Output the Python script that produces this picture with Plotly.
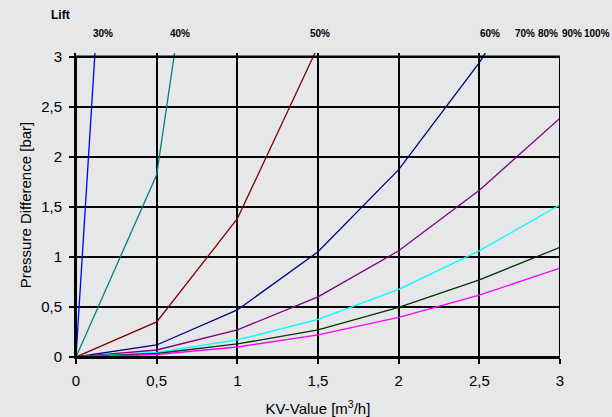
import plotly.graph_objects as go

kv = [0, 0.5, 1.0, 1.5, 2.0, 2.5, 3.0]
lift_labels = ["30%", "40%", "50%", "60%", "70%", "80%", "90%", "100%"]
lift_label_px = [103, 180, 320, 490, 525, 548, 572, 597]

dp_30 = [0, 12.9, None, None, None, None, None]
dp_40 = [0, 1.82, 7.3, None, None, None, None]
dp_50 = [0, 0.35, 1.38, 3.1, None, None, None]
dp_60 = [0, 0.12, 0.47, 1.05, 1.87, 2.94, 4.2]
dp_70 = [0, 0.07, 0.27, 0.6, 1.06, 1.665, 2.385]
dp_80 = [0, 0.045, 0.17, 0.375, 0.675, 1.06, 1.52]
dp_90 = [0, 0.035, 0.13, 0.27, 0.495, 0.77, 1.095]
dp_100 = [0, 0.025, 0.1, 0.22, 0.395, 0.618, 0.887]

series = [dp_30, dp_40, dp_50, dp_60, dp_70, dp_80, dp_90, dp_100]
colors = ["#0000FF", "#008080", "#800000", "#000080", "#800080", "#00FFFF", "#003300", "#FF00FF"]

W, H = 612, 417
ML, MR, MT, MB = 76, 52, 52.7, 60
PW, PH = W - ML - MR, H - MT - MB


def px_x(px):
    return (px - ML) / PW


def px_y(py):
    return (H - MB - py) / PH


fig = go.Figure()
for s, c, n in zip(series, colors, lift_labels):
    xs = [x for x, y in zip(kv, s) if y is not None]
    ys = [y for y in s if y is not None]
    fig.add_trace(go.Scatter(x=xs, y=ys, mode="lines", name=n,
                             line=dict(color=c, width=1.3), showlegend=False))

# frame around the plot area
fig.add_shape(type="rect", xref="x", yref="y", x0=0, y0=0, x1=3, y1=3,
              line=dict(color="black", width=2), layer="above")

fam = "Liberation Sans, Arial, sans-serif"
for lab, px in zip(lift_labels, lift_label_px):
    fig.add_annotation(x=px_x(px), y=px_y(33), xref="paper", yref="paper",
                       xanchor="center", yanchor="middle",
                       text="<b>" + lab + "</b>", showarrow=False,
                       font=dict(size=10, color="black", family=fam))
fig.add_annotation(x=px_x(60), y=px_y(15), xref="paper", yref="paper",
                   xanchor="center", yanchor="middle",
                   text="<b>Lift</b>", showarrow=False,
                   font=dict(size=12, color="black", family=fam))

bg = "#E6E7E9"
fig.update_layout(
    width=W, height=H,
    paper_bgcolor=bg, plot_bgcolor=bg,
    margin=dict(l=ML, r=MR, t=MT, b=MB, autoexpand=False),
    separators=", ",
    font=dict(family=fam, size=15, color="black"),
    xaxis=dict(range=[0, 3], tickvals=[0, 0.5, 1, 1.5, 2, 2.5, 3],
               showgrid=True, gridcolor="black", gridwidth=1.5,
               zeroline=False, showline=True, linecolor="black", linewidth=2,
               ticks="outside", ticklen=5, tickcolor="black", tickwidth=1.5,
               ticklabelstandoff=4,
               title=dict(text="KV-Value [m<sup>3</sup>/h]", font=dict(size=15), standoff=18)),
    yaxis=dict(range=[0, 3.035], tickvals=[0, 0.5, 1, 1.5, 2, 2.5, 3],
               showgrid=True, gridcolor="black", gridwidth=1.5,
               zeroline=False, showline=True, linecolor="black", linewidth=2,
               ticks="outside", ticklen=5, tickcolor="black", tickwidth=1.5,
               ticklabelstandoff=4,
               title=dict(text="Pressure Difference [bar]", font=dict(size=15), standoff=6)),
)

fig.write_html("out.html", config={"displayModeBar": False},
               post_script="document.body.style.margin='0';document.body.style.background='#E6E7E9';")
